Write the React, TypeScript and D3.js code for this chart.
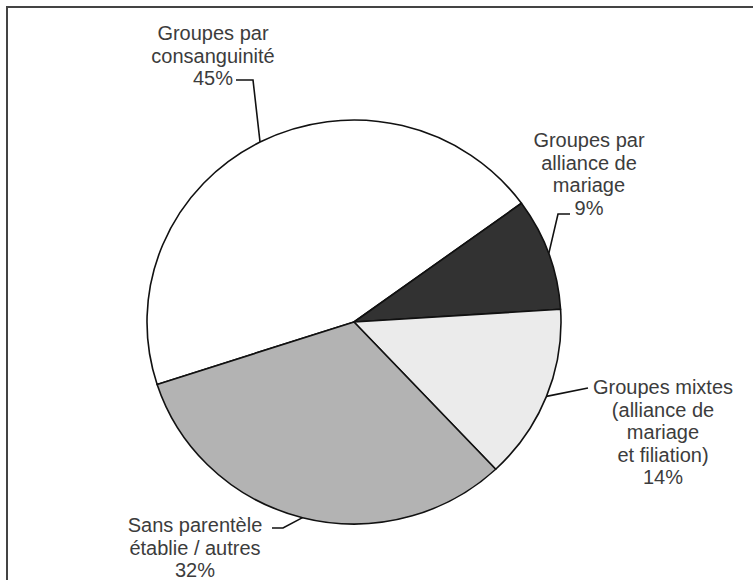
import React from "react";
import * as d3 from "d3";

// ---- data ----
const categories = [
  "Groupes par consanguinité",
  "Groupes par alliance de mariage",
  "Groupes mixtes (alliance de mariage et filiation)",
  "Sans parentèle établie / autres",
];
const values = [45, 9, 14, 32];
const labelTexts = [
  ["Groupes par", "consanguinité"],
  ["Groupes par", "alliance de", "mariage"],
  ["Groupes mixtes", "(alliance de", "mariage", "et filiation)"],
  ["Sans parentèle", "établie / autres"],
];
const fills = ["#ffffff", "#323232", "#ebebeb", "#b3b3b3"];

// ---- layout ----
const W = 753;
const H = 580;
const CX = 354;
const CY = 322;
const RX = 207;
const RY = 202;
const START_DEG = 252;
const LINE_H = 22.5;
const labelLayout = [
  { x: 213, y: 33, elbow: [253, 80], end: [236, 80] },
  { x: 589, y: 140, elbow: [558, 214], end: [570, 214] },
  { x: 663, y: 387, elbow: [588, 388], end: [588, 388] },
  { x: 195, y: 525, elbow: [283, 528], end: [272, 528] },
];

export default function App() {
  const start = (START_DEG * Math.PI) / 180;
  const pie = d3
    .pie<number>()
    .sort(null)
    .startAngle(start)
    .endAngle(start + 2 * Math.PI);
  const arcs = pie(values);
  const arcGen = d3.arc<d3.PieArcDatum<number>>().innerRadius(0).outerRadius(RX);
  const k = RY / RX;

  return (
    <svg
      width={W}
      height={H}
      style={{ position: "absolute", left: 0, top: 0, background: "#fff" }}
      fontFamily="'Liberation Sans', Arial, sans-serif"
    >
      <rect x={0} y={0} width={W} height={H} fill="#fff" />
      {/* frame */}
      <line x1={6} y1={7} x2={W} y2={7} stroke="#444" strokeWidth={2} />
      <line x1={7} y1={6} x2={7} y2={H} stroke="#444" strokeWidth={2} />

      <g transform={`translate(${CX},${CY}) scale(1,${k})`}>
        {arcs.map((a, i) => (
          <path
            key={categories[i]}
            d={arcGen(a) || ""}
            fill={fills[i]}
            stroke="#111"
            strokeWidth={1.6}
            vectorEffect="non-scaling-stroke"
            strokeLinejoin="round"
          />
        ))}
      </g>

      {arcs.map((a, i) => {
        const mid = (a.startAngle + a.endAngle) / 2;
        const px = CX + RX * Math.sin(mid);
        const py = CY - RY * Math.cos(mid);
        const L = labelLayout[i];
        const pts = [[px, py], L.elbow, L.end];
        const line = d3.line()(pts as [number, number][]);
        return (
          <path key={"l" + i} d={line || ""} fill="none" stroke="#111" strokeWidth={1.6} />
        );
      })}

      {labelTexts.map((lines, i) => {
        const L = labelLayout[i];
        const all = [...lines, `${values[i]}%`];
        return (
          <text
            key={"t" + i}
            textAnchor="middle"
            fontSize={20}
            fill="#3c3c3c"
          >
            {all.map((s, j) => (
              <tspan key={j} x={L.x} y={L.y + j * LINE_H + 7}>
                {s}
              </tspan>
            ))}
          </text>
        );
      })}
    </svg>
  );
}
